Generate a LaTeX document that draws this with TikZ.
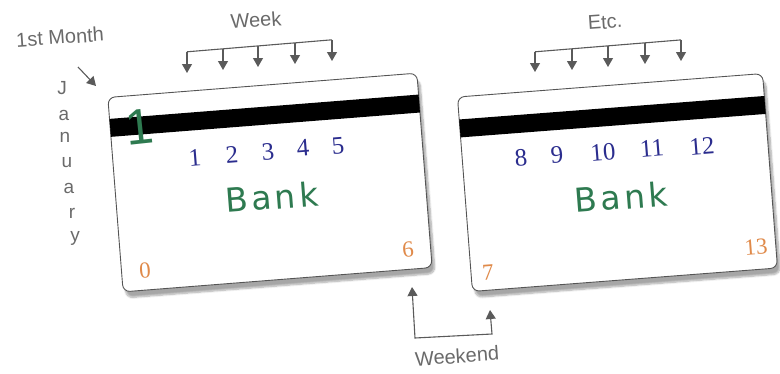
\documentclass[tikz,border=0pt]{standalone}
\usepackage{fontspec}
\setmainfont{Liberation Serif}
\newfontfamily\labelfont{Liberation Sans}
\newfontfamily\bankfont[LetterSpace=10]{DejaVu Sans}
\usetikzlibrary{arrows.meta,shadows.blur}
\definecolor{navy}{HTML}{2B2D8E}
\definecolor{bankgreen}{HTML}{2E7A50}
\definecolor{orangec}{HTML}{E08A4A}
\definecolor{labelgray}{HTML}{6A6A6A}
\definecolor{arrowgray}{HTML}{5A5A5A}
\definecolor{cardedge}{HTML}{555555}
\tikzset{
  card/.style={draw=cardedge, fill=white, rounded corners=7pt, line width=0.9pt,
    inner sep=0pt, outer sep=0pt,
    blur shadow={shadow xshift=3pt, shadow yshift=-6pt, shadow opacity=35, shadow blur steps=8}},
  stripe/.style={fill=black, inner sep=0pt, outer sep=0pt, minimum height=18pt},
  weeknum/.style={text=navy, font=\fontsize{25}{25}\selectfont, rotate=4.5, inner sep=0pt},
  daynum/.style={text=orangec, font=\fontsize{23}{23}\selectfont, rotate=4.5, inner sep=0pt},
  bankstyle/.style={text=bankgreen, font=\bankfont\fontsize{33}{33}\selectfont, rotate=4.5, inner sep=0pt},
  bigone/.style={text=bankgreen, font=\labelfont\fontsize{50}{50}\selectfont, rotate=6, inner sep=0pt},
  lbl/.style={text=labelgray, font=\labelfont\fontsize{20}{20}\selectfont, rotate=4, inner sep=0pt},
  vlet/.style={text=labelgray, font=\labelfont\fontsize{19}{19}\selectfont, inner sep=0pt},
  arr/.style={draw=arrowgray, line width=1.1pt, -{Triangle[length=9pt,width=10pt]}},
  bline/.style={draw=arrowgray, line width=1.1pt},
}
\begin{document}
\begin{tikzpicture}[x=1pt,y=-1pt]
\useasboundingbox (0,0) rectangle (780,373);

% ---------- cards ----------
\begin{scope}[shift={(270,182.5)}, rotate=4.5, transform shape]
  \node[card, minimum width=310pt, minimum height=195pt] (card1) at (0,0) {};
  \node[stripe, minimum width=310pt] (stripe1) at (0,-67) {};
\end{scope}
\begin{scope}[shift={(617.5,182.5)}, rotate=4.4, transform shape]
  \node[card, minimum width=306pt, minimum height=195pt] (card2) at (0,0) {};
  \node[stripe, minimum width=306pt] (stripe2) at (0,-66) {};
\end{scope}

% ---------- card 1 texts ----------
\node[bigone] (one) at (140,127) {1};
\node[weeknum] (d1) at (195,158) {1};
\node[weeknum] (d2) at (232,155) {2};
\node[weeknum] (d3) at (268,152) {3};
\node[weeknum] (d4) at (303,148) {4};
\node[weeknum] (d5) at (338,146) {5};
\node[bankstyle] (bank1) at (272,197) {Bank};
\node[daynum] (d0) at (145,271) {0};
\node[daynum] (d6) at (408,250) {6};

% ---------- card 2 texts ----------
\node[weeknum] (d8) at (521,158) {8};
\node[weeknum] (d9) at (557,155) {9};
\node[weeknum] (d10) at (603,152) {10};
\node[weeknum] (d11) at (652,148) {11};
\node[weeknum] (d12) at (702,146) {12};
\node[bankstyle] (bank2) at (621,197) {Bank};
\node[daynum] (d7) at (488,273) {7};
\node[daynum] (d13) at (756,247) {13};

% ---------- labels ----------
\node[lbl] (month) at (60,37) {1st Month};
\node[lbl] (week) at (256,20) {Week};
\node[lbl] (etc) at (605,22) {Etc.};
\node[lbl] (weekend) at (457,356) {Weekend};

\node[vlet] (jJ) at (62,88) {J};
\node[vlet] (ja) at (64,115) {a};
\node[vlet] (jn) at (65,137) {n};
\node[vlet] (ju) at (67,163) {u};
\node[vlet] (ja2) at (69,188) {a};
\node[vlet] (jr) at (72,213) {r};
\node[vlet] (jy) at (75,238) {y};

% ---------- 1st month arrow ----------
\coordinate (m1) at (78,67);
\coordinate (m2) at (96,86);
\draw[arr] (m1) -- (m2);

% ---------- week bracket ----------
\coordinate (wb1) at (187,51.8); \coordinate (wt1) at (187,73);
\coordinate (wb2) at (223,48.9); \coordinate (wt2) at (223,70);
\coordinate (wb3) at (258,46.0); \coordinate (wt3) at (258,67);
\coordinate (wb4) at (295,42.9); \coordinate (wt4) at (295,64);
\coordinate (wb5) at (332,39.8); \coordinate (wt5) at (332,61);
\draw[bline] (wb1) -- (wb5);
\foreach \i in {1,...,5} { \draw[arr] (wb\i) -- (wt\i); }

% ---------- etc bracket ----------
\coordinate (eb1) at (535,51.8); \coordinate (et1) at (535,72);
\coordinate (eb2) at (572,48.8); \coordinate (et2) at (572,70);
\coordinate (eb3) at (608,45.9); \coordinate (et3) at (608,67);
\coordinate (eb4) at (645,42.9); \coordinate (et4) at (645,64);
\coordinate (eb5) at (681,39.9); \coordinate (et5) at (681,61);
\draw[bline] (eb1) -- (eb5);
\foreach \i in {1,...,5} { \draw[arr] (eb\i) -- (et\i); }

% ---------- weekend bracket ----------
\coordinate (wkA) at (412,287);
\coordinate (wkB) at (415,338);
\coordinate (wkC) at (492,334);
\coordinate (wkD) at (490,310);
\draw[bline, {Triangle[length=9pt,width=10pt]}-{Triangle[length=9pt,width=10pt]}]
  (wkA) -- (wkB) -- (wkC) -- (wkD);
\end{tikzpicture}
\end{document}
